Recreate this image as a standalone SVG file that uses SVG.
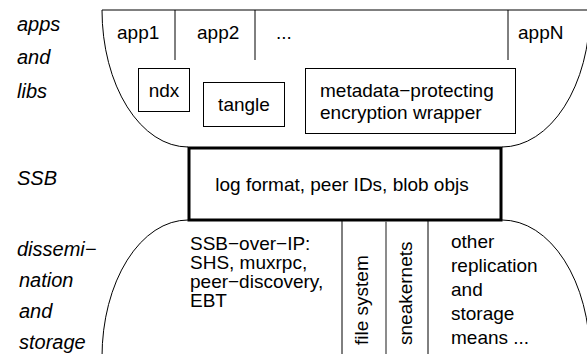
<svg xmlns="http://www.w3.org/2000/svg" width="587" height="354" viewBox="0 0 587 354">
<style>
  .ln { fill: none; stroke: #000; stroke-width: 1; }
  .t { font-family: "Liberation Sans", Arial, sans-serif; font-size: 19px; fill: #000; }
  .lab { font-family: "Liberation Sans", Arial, sans-serif; font-size: 20px; font-style: italic; fill: #000; }
  .box { fill: none; stroke: #000; stroke-width: 1; }
</style>
<rect width="587" height="354" fill="#fff"/>

<g id="labels">
  <text class="lab" x="17" y="31">apps</text>
  <text class="lab" x="17" y="64">and</text>
  <text class="lab" x="17" y="98">libs</text>
  <text class="lab" x="17" y="185">SSB</text>
  <text class="lab" x="17" y="256">dissemi−</text>
  <text class="lab" x="19" y="287">nation</text>
  <text class="lab" x="19" y="318">and</text>
  <text class="lab" x="19" y="349">storage</text>
</g>

<g id="apps-layer">
  <path class="ln" d="M102,10 L587,10"/>
  <path class="ln" d="M102,10 A86,137 0 0,0 188,147"/>
  <path class="ln" d="M502,147 A88,137 0 0,0 590,10"/>
  <path class="ln" d="M175,10 V60 M255,10 V60 M508,10 V60"/>
  <text class="t" x="117" y="39">app1</text>
  <text class="t" x="197" y="39">app2</text>
  <text class="t" x="276" y="39">...</text>
  <text class="t" x="518" y="39">appN</text>
</g>

<g id="ndx">
  <rect class="box" x="138.5" y="68.5" width="51" height="43"/>
  <text class="t" x="164" y="97" text-anchor="middle">ndx</text>
</g>
<g id="tangle">
  <rect class="box" x="203.5" y="82.5" width="81" height="44"/>
  <text class="t" x="244" y="111" text-anchor="middle">tangle</text>
</g>
<g id="metadata">
  <rect class="box" x="305.5" y="68.5" width="210" height="65"/>
  <text class="t" x="320" y="97">metadata−protecting</text>
  <text class="t" x="320" y="119">encryption wrapper</text>
</g>

<g id="ssb">
  <rect x="189" y="148" width="312" height="72" fill="none" stroke="#000" stroke-width="3"/>
  <text class="t" x="342" y="191" text-anchor="middle">log format, peer IDs, blob objs</text>
</g>

<g id="dissemination-layer">
  <path class="ln" d="M188,220 A86,137 0 0,0 102,357"/>
  <path class="ln" d="M502,220 A88,137 0 0,1 590,357"/>
  <path class="ln" d="M342,221 V354 M428,221 V354"/>
  <path d="M386,221 V354" fill="none" stroke="#666" stroke-width="1.5"/>
  <text class="t" x="190" y="250">SSB−over−IP:</text>
  <text class="t" x="190" y="269">SHS, muxrpc,</text>
  <text class="t" x="190" y="288">peer−discovery,</text>
  <text class="t" x="190" y="307">EBT</text>
  <text class="t" transform="translate(368,345) rotate(-90)">file system</text>
  <text class="t" transform="translate(412,345) rotate(-90)">sneakernets</text>
  <text class="t" x="451" y="248">other</text>
  <text class="t" x="451" y="272">replication</text>
  <text class="t" x="451" y="296">and</text>
  <text class="t" x="451" y="320">storage</text>
  <text class="t" x="451" y="344">means ...</text>
</g>
</svg>
